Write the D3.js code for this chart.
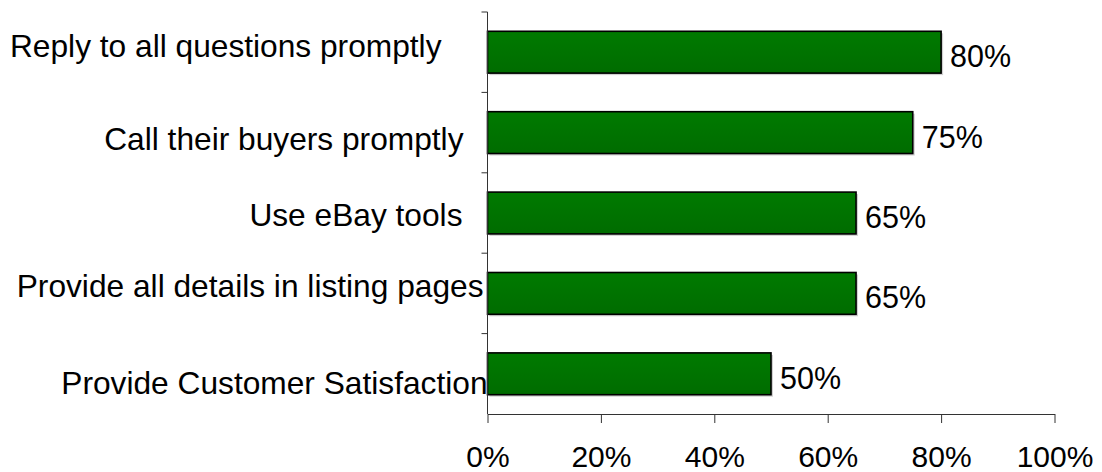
<!DOCTYPE html>
<html>
<head>
<meta charset="utf-8">
<script src="https://cdn.jsdelivr.net/npm/d3@7"></script>
<style>
  html, body { margin: 0; padding: 0; background: #fff; }
  svg { display: block; }
  text { font-family: "Liberation Sans", Arial, sans-serif; fill: #000; }
</style>
</head>
<body>
<svg id="chart" width="1102" height="472"></svg>
<script>
// ---- data ----
const categories = [
  "Reply to all questions promptly",
  "Call their buyers promptly",
  "Use eBay tools",
  "Provide all details in listing pages",
  "Provide Customer Satisfaction"
];
const values = [0.80, 0.75, 0.65, 0.65, 0.50];
const xTickValues = [0, 0.2, 0.4, 0.6, 0.8, 1.0];

// ---- layout (label nudges as in the original slide) ----
const labelNudgeX = [-46, -24, -25, -4, 0];
const labelNudgeY = [4.5, 17.4, 13, 3.6, 20];

const svg = d3.select("#chart");
const x = d3.scaleLinear().domain([0, 1]).range([487.5, 1054.5]);
const y = d3.scaleBand().domain(categories).range([12, 414]).paddingInner(0.48).paddingOuter(0.24);

const defs = svg.append("defs");
const grad = defs.append("linearGradient").attr("id", "barGrad")
  .attr("x1", 0).attr("y1", 0).attr("x2", 0).attr("y2", 1);
grad.append("stop").attr("offset", "0%").attr("stop-color", "#007a00");
grad.append("stop").attr("offset", "100%").attr("stop-color", "#006c00");

// shadows
svg.append("g").selectAll("rect").data(values).join("rect")
  .attr("x", x(0) + 2)
  .attr("y", (d, i) => y(categories[i]) + 2)
  .attr("width", d => x(d) - x(0))
  .attr("height", y.bandwidth())
  .attr("fill", "#d0d0d0");

// bars
svg.append("g").selectAll("rect").data(values).join("rect")
  .attr("x", x(0))
  .attr("y", (d, i) => y(categories[i]))
  .attr("width", d => x(d) - x(0))
  .attr("height", y.bandwidth())
  .attr("fill", "url(#barGrad)")
  .attr("stroke", "#000")
  .attr("stroke-width", 1.6);

// y axis (line + ticks at band boundaries)
const yAxisG = svg.append("g");
yAxisG.append("line").attr("x1", x(0)).attr("x2", x(0)).attr("y1", 12).attr("y2", 414)
  .attr("stroke", "#333").attr("stroke-width", 1);
const boundaries = categories.map(c => y(c) - y.step() * y.paddingInner() / 2);
yAxisG.selectAll("line.tk").data(boundaries).join("line").attr("class", "tk")
  .attr("x1", x(0) - 6).attr("x2", x(0))
  .attr("y1", d => d).attr("y2", d => d)
  .attr("stroke", "#333").attr("stroke-width", 1);

// x axis
const xAxis = d3.axisBottom(x).tickValues(xTickValues).tickFormat(d3.format(".0%"))
  .tickSizeInner(9).tickSizeOuter(0).tickPadding(22);
const xg = svg.append("g").attr("transform", "translate(0,414)").call(xAxis);
xg.select(".domain").attr("stroke", "#333");
xg.selectAll(".tick line").attr("stroke", "#333");
xg.selectAll(".tick text").attr("font-size", 30)
  .attr("font-family", "'Liberation Sans', Arial, sans-serif").attr("fill", "#000")
  .attr("dy", "0.72em");

// category labels
svg.append("g").selectAll("text").data(categories).join("text")
  .attr("x", (d, i) => x(0) + labelNudgeX[i])
  .attr("y", (d, i) => y(d) + y.bandwidth() / 2 + labelNudgeY[i])
  .attr("text-anchor", "end")
  .attr("font-size", 31.7)
  .text(d => d);

// value labels
svg.append("g").selectAll("text").data(values).join("text")
  .attr("x", d => x(d) + 9)
  .attr("y", (d, i) => y(categories[i]) + y.bandwidth() / 2 + 15)
  .attr("font-size", 30.5)
  .text(d => d3.format(".0%")(d));
</script>
</body>
</html>
